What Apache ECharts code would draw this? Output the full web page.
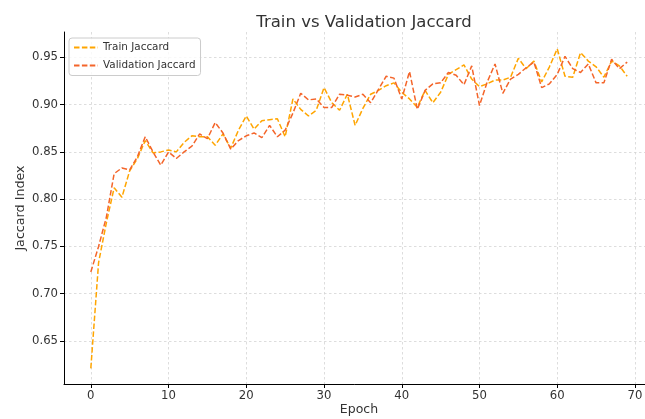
<!DOCTYPE html>
<html>
<head>
<meta charset="utf-8">
<script src="https://cdn.jsdelivr.net/npm/echarts@6/dist/echarts.min.js"></script>
<style>
html,body{margin:0;padding:0;background:#fff;}
#chart{width:645px;height:419px;}
</style>
</head>
<body>
<div id="chart"></div>
<script>
const epochs = Array.from({length: 70}, (_, i) => i);
const trainJaccard = [
  0.621, 0.733, 0.775, 0.812, 0.802, 0.830, 0.843, 0.862, 0.849, 0.850,
  0.852, 0.850, 0.860, 0.867, 0.866, 0.866, 0.857, 0.869, 0.854, 0.873,
  0.888, 0.874, 0.883, 0.884, 0.885, 0.866, 0.906, 0.895, 0.888, 0.894,
  0.918, 0.902, 0.894, 0.911, 0.878, 0.896, 0.911, 0.915, 0.920, 0.923,
  0.913, 0.906, 0.897, 0.915, 0.902, 0.913, 0.932, 0.937, 0.942, 0.927,
  0.919, 0.922, 0.926, 0.926, 0.929, 0.949, 0.938, 0.946, 0.924, 0.940,
  0.959, 0.930, 0.929, 0.955, 0.946, 0.940, 0.929, 0.946, 0.941, 0.930
];
const valJaccard = [
  0.723, 0.750, 0.781, 0.827, 0.833, 0.831, 0.845, 0.866, 0.850, 0.836,
  0.850, 0.843, 0.850, 0.856, 0.869, 0.864, 0.881, 0.870, 0.853, 0.862,
  0.867, 0.870, 0.865, 0.878, 0.866, 0.873, 0.891, 0.912, 0.905, 0.906,
  0.897, 0.897, 0.911, 0.910, 0.908, 0.911, 0.902, 0.916, 0.930, 0.928,
  0.906, 0.935, 0.895, 0.915, 0.922, 0.923, 0.934, 0.931, 0.921, 0.941,
  0.899, 0.924, 0.943, 0.912, 0.927, 0.932, 0.939, 0.945, 0.918, 0.922,
  0.932, 0.951, 0.938, 0.934, 0.943, 0.923, 0.923, 0.948, 0.938, 0.945
];
const xTicks = [0, 10, 20, 30, 40, 50, 60, 70];
const yTicks = [0.65, 0.70, 0.75, 0.80, 0.85, 0.90, 0.95];
const titleText = 'Train vs Validation Jaccard';
const xName = 'Epoch';
const yName = 'Jaccard Index';
const seriesNames = ['Train Jaccard', 'Validation Jaccard'];

const FONT = 'DejaVu Sans';
const chart = echarts.init(document.getElementById('chart'), null, {renderer: 'canvas'});
const gridLine = {show: true, lineStyle: {color: '#d4d4d4', width: 0.8, type: [2.5, 2.5]}};
chart.setOption({
  backgroundColor: '#ffffff',
  animation: false,
  title: {
    text: titleText, left: 359, top: 9, textAlign: 'center',
    textStyle: {fontFamily: FONT, fontSize: 16.5, fontWeight: 'normal', color: '#333333'}
  },
  legend: {
    orient: 'vertical', left: 69, top: 38,
    itemWidth: 24, itemHeight: 12, itemGap: 5,
    padding: [3, 5, 3.5, 4],
    backgroundColor: 'rgba(255,255,255,0.8)',
    borderColor: '#cccccc', borderWidth: 1, borderRadius: 3,
    itemStyle: {color: 'rgba(0,0,0,0)', borderWidth: 0, opacity: 0},
    textStyle: {fontFamily: FONT, fontSize: 10.4, color: '#333333', lineHeight: 13},
    data: seriesNames
  },
  grid: {left: 64, right: -9, top: 32, bottom: 35, containLabel: false, outerBoundsMode: 'none'},
  xAxis: {
    type: 'value', min: -3.45, max: 72.45,
    name: xName, nameLocation: 'middle', nameGap: 19, nameMoveOverlap: false,
    nameTextStyle: {fontFamily: FONT, fontSize: 12.5, color: '#333333'},
    axisLine: {show: true, onZero: false, lineStyle: {color: '#000000', width: 1}},
    axisTick: {show: true, inside: false, length: 4, customValues: xTicks, lineStyle: {color: '#000000', width: 1}},
    axisLabel: {customValues: xTicks, margin: 6, fontFamily: FONT, fontSize: 11.7, color: '#333333'},
    splitLine: gridLine
  },
  yAxis: {
    type: 'value', min: 0.6045, max: 0.9768,
    name: yName, nameLocation: 'middle', nameGap: 37, nameRotate: 90, nameMoveOverlap: false,
    nameTextStyle: {fontFamily: FONT, fontSize: 12.7, color: '#333333'},
    axisLine: {show: true, onZero: false, lineStyle: {color: '#000000', width: 1}},
    axisTick: {show: true, inside: false, length: 4, customValues: yTicks, lineStyle: {color: '#000000', width: 1}},
    axisLabel: {customValues: yTicks, margin: 6, fontFamily: FONT, fontSize: 11.7, color: '#333333',
      formatter: v => v.toFixed(2)},
    splitLine: gridLine
  },
  series: [
    {
      name: seriesNames[0], type: 'line', symbol: 'none', showSymbol: false,
      data: epochs.map((e, i) => [e, trainJaccard[i]]),
      lineStyle: {color: '#FFA500', width: 1.5, type: [5.5, 2.4]},
      itemStyle: {color: '#FFA500'}, z: 3
    },
    {
      name: seriesNames[1], type: 'line', symbol: 'none', showSymbol: false,
      data: epochs.map((e, i) => [e, valJaccard[i]]),
      lineStyle: {color: '#F4652A', width: 1.5, type: [5.5, 2.4]},
      itemStyle: {color: '#F4652A'}, z: 4
    }
  ]
});
</script>
</body>
</html>
